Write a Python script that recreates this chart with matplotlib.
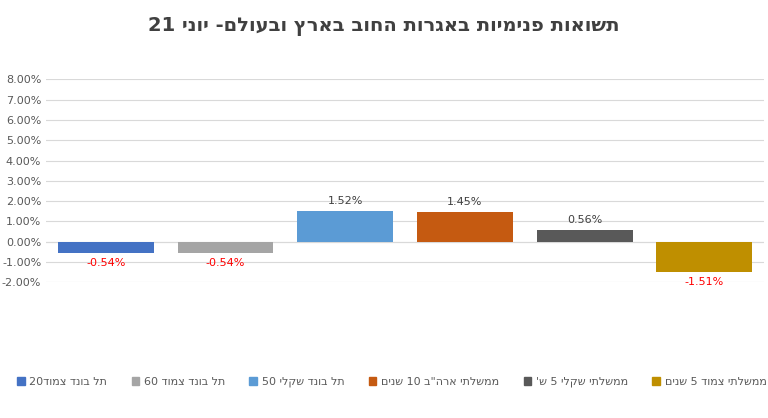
import re
import matplotlib
matplotlib.use("Agg")
import matplotlib.pyplot as plt
from matplotlib.patches import Patch

def heb(s):
    r = s[::-1]
    return re.sub(r'[0-9.%\-]*[0-9][0-9.%]*', lambda m: m.group(0)[::-1], r)

title = "תשואות פנימיות באגרות החוב בארץ ובעולם- יוני 21"
categories = ["תל בונד צמוד20", "תל בונד צמוד 60", "תל בונד שקלי 50",
              "ממשלתי ארה\"ב 10 שנים", "ממשלתי שקלי 5 ש'", "ממשלתי צמוד 5 שנים"]
values = [-0.54, -0.54, 1.52, 1.45, 0.56, -1.51]
colors = ["#4472C4", "#A5A5A5", "#5B9BD5", "#C55A11", "#595959", "#BF8F00"]
yticks = [-2, -1, 0, 1, 2, 3, 4, 5, 6, 7, 8]

fig = plt.figure(figsize=(7.68, 4.18), dpi=100)
ax = fig.add_axes([0.06, 0.325, 0.935, 0.485])
x = range(len(values))
ax.bar(x, values, width=0.8, color=colors, edgecolor="none", zorder=3)
for i, v in enumerate(values):
    if v >= 0:
        ax.text(i, v + 0.25, f"{v:.2f}%", ha="center", va="bottom", fontsize=8, color="#404040")
    else:
        ax.text(i, v - 0.25, f"{v:.2f}%", ha="center", va="top", fontsize=8, color="#FF0000")
ax.set_ylim(-2, 8)
ax.set_xlim(-0.5, len(values) - 0.5)
ax.set_yticks(yticks)
ax.set_yticklabels([f"{t:.2f}%" for t in yticks], fontsize=8, color="#595959")
ax.set_xticks([])
ax.grid(axis="y", color="#D9D9D9", linewidth=0.8, zorder=0)
for s in ax.spines.values():
    s.set_visible(False)
ax.axhline(0, color="#D9D9D9", linewidth=0.8, zorder=1)
ax.tick_params(axis="y", length=0)
fig.suptitle(heb(title), y=0.96, fontsize=14, fontweight="bold", color="#404040")
handles = [Patch(color=c, label=heb(n)) for c, n in zip(colors, categories)]
fig.legend(handles=handles, loc="lower center", ncol=6, bbox_to_anchor=(0.51, 0.05),
           frameon=False, fontsize=8, handlelength=0.7, handleheight=0.7,
           handletextpad=0.4, columnspacing=2.2, labelcolor="#595959")
fig.savefig("out.png", dpi=100)
